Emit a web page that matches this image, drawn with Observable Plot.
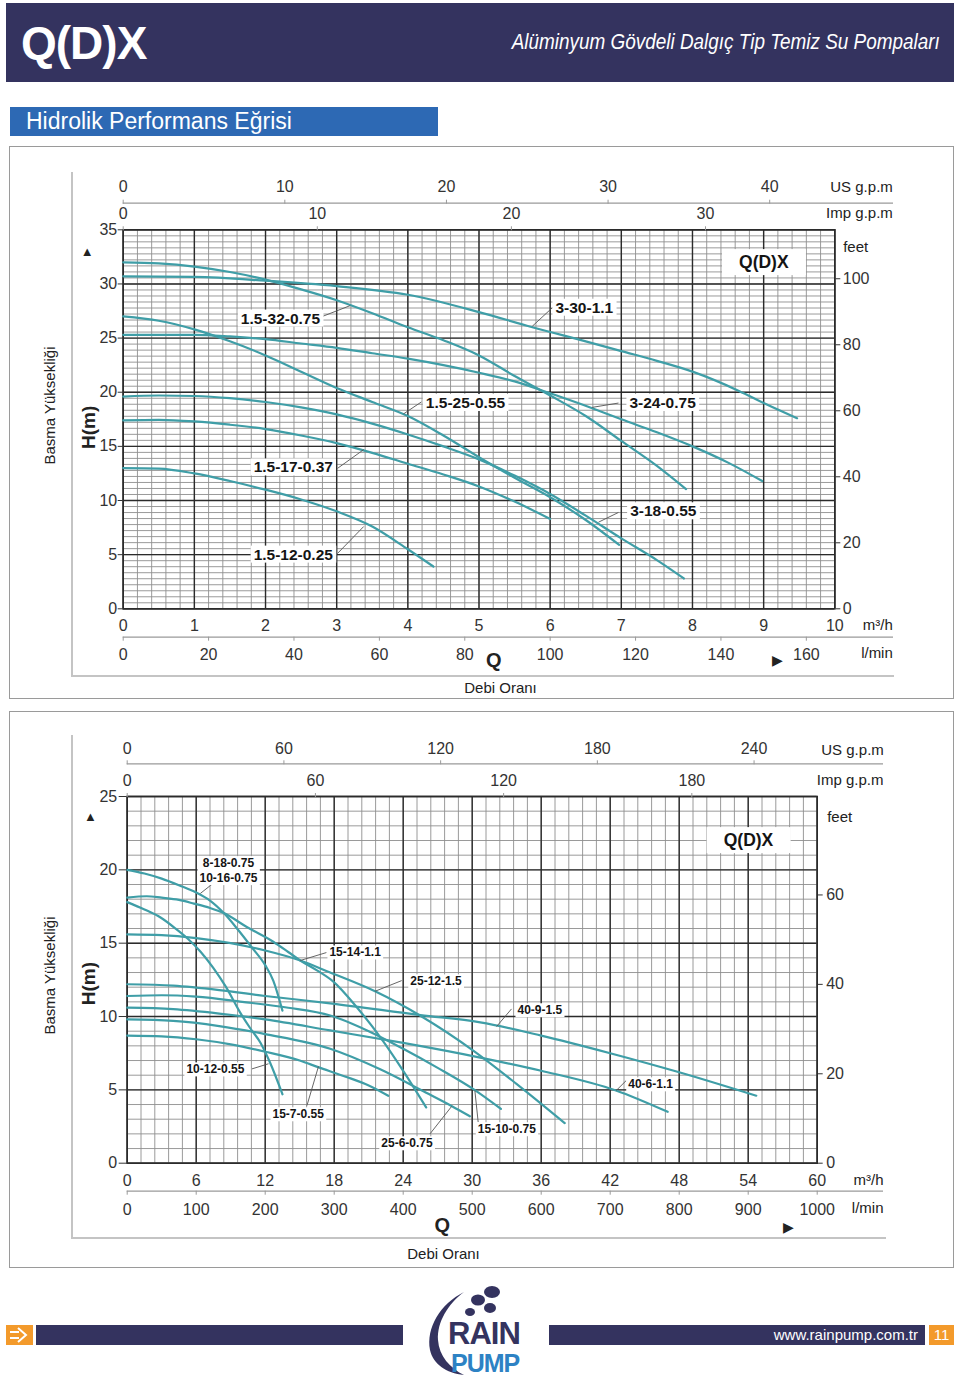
<!DOCTYPE html>
<html><head><meta charset="utf-8">
<script src="https://cdn.jsdelivr.net/npm/d3@7"></script>
<script src="https://cdn.jsdelivr.net/npm/@observablehq/plot@0.6"></script>
<style>
body{margin:0;background:#fff;font-family:"Liberation Sans",Arial,sans-serif;}
#page{position:relative;width:960px;height:1376px;overflow:hidden;background:#fff;}
.abs{position:absolute;white-space:nowrap;}
.chart{position:absolute;left:0;}
</style></head><body><div id="page">
<div class="abs" style="left:6px;top:3px;width:948px;height:79px;background:#34335f"></div>
<div class="abs" style="left:21px;top:20px;font:bold 46px 'Liberation Sans',Arial;line-height:1;color:#fff;letter-spacing:-1px">Q(D)X</div>
<div class="abs" style="right:20px;top:31px;font:italic 22px 'Liberation Sans',Arial;line-height:1;color:#fff;transform:scaleX(.86);transform-origin:right center">Alüminyum Gövdeli Dalgıç Tip Temiz Su Pompaları</div>
<div class="abs" style="left:10px;top:107px;width:428px;height:29px;background:#2d69b4"></div>
<div class="abs" style="left:26px;top:110px;font:23px 'Liberation Sans',Arial;line-height:1;color:#fff">Hidrolik Performans Eğrisi</div>
<div class="abs" style="left:9px;top:146px;width:943px;height:551px;border:1px solid #9a9a9a"></div>
<div class="abs" style="left:71px;top:172px;width:821px;height:503px;border-left:2px solid #c4c4c4;border-bottom:2px solid #c4c4c4"></div>
<div class="abs" style="left:9px;top:711px;width:943px;height:555px;border:1px solid #9a9a9a"></div>
<div class="abs" style="left:71px;top:735px;width:813px;height:502px;border-left:2px solid #c4c4c4;border-bottom:2px solid #c4c4c4"></div>
<div id="top" class="chart" style="top:147px"></div>
<div id="bot" class="chart" style="top:711px"></div>
<!-- footer -->
<svg class="abs" style="left:6px;top:1325px" width="27" height="20"><rect width="27" height="20" fill="#f39a2b"/><path d="M4 7h9M4 13h9M12 3l8 7-8 7" stroke="#fff" stroke-width="2" fill="none"/></svg>
<div class="abs" style="left:36px;top:1325px;width:367px;height:20px;background:#34335f"></div>
<div class="abs" style="left:549px;top:1325px;width:376px;height:20px;background:#34335f"></div>
<div class="abs" style="right:42px;top:1327px;font:15px 'Liberation Sans',Arial;line-height:16px;color:#fff">www.rainpump.com.tr</div>
<div class="abs" style="left:929px;top:1325px;width:25px;height:20px;background:#f39a2b;color:#fff;font:15px 'Liberation Sans',Arial;line-height:20px;text-align:center">11</div>
<svg class="abs" style="left:420px;top:1282px" width="130" height="94">
<path d="M44 10 C20 22 6 46 10 68 C13 82 26 91 44 93 C30 86 19 74 18 58 C17 40 28 22 44 10Z" fill="#34335f"/>
<ellipse cx="72" cy="10" rx="8" ry="6" fill="#34335f"/><ellipse cx="58" cy="18" rx="7" ry="5.5" fill="#34335f"/>
<ellipse cx="70" cy="26" rx="6" ry="5" fill="#34335f"/><ellipse cx="50" cy="30" rx="5" ry="4" fill="#34335f"/>
<text x="28" y="62" font-family="Liberation Sans,Arial" font-weight="bold" font-size="31" fill="#34335f" letter-spacing="-1">RAIN</text>
<text x="31" y="90" font-family="Liberation Sans,Arial" font-weight="bold" font-size="25" fill="#2d82c4" letter-spacing="-1">PUMP</text>
</svg>
</div>
<script>
// ---------- unit conversions ----------
const feetToM = 0.3048, usToM3h = 0.2271247, impToM3h = 0.2727654, lminToM3h = 0.06;

// ---------- top chart: tick values ----------
const topFlowTicks = [0,1,2,3,4,5,6,7,8,9,10];
const topHeadTicks = [0,5,10,15,20,25,30,35];
const topFeetTicks = [0,20,40,60,80,100];
const topUsTicks = [0,10,20,30,40];
const topImpTicks = [0,10,20,30];
const topLminTicks = [0,20,40,60,80,100,120,140,160];

// ---------- top chart: curves (Q m3/h, H m) ----------
const c_1_5_32_075 = [[0,32.0],[0.5,31.9],[1,31.6],[1.5,31.1],[2,30.4],[2.5,29.5],[3,28.5],[3.5,27.3],[4,26.0],[4.5,24.8],[5,23.4],[5.5,21.5],[6,19.7],[6.5,17.8],[7,15.5],[7.5,13.2],[7.91,11.05]];
const c_3_30_11 = [[0,30.7],[1,30.65],[2,30.3],[3,29.8],[4,29.0],[5,27.4],[5.75,26.0],[6.5,24.7],[7,23.8],[7.5,22.9],[8,21.9],[8.66,20.1],[9,19.0],[9.47,17.6]];
const c_1_5_25_055 = [[0,27.0],[0.5,26.6],[1,25.8],[1.5,24.7],[2,23.4],[2.5,21.9],[3,20.4],[3.5,19.1],[4,17.8],[4.5,16.0],[5,14.0],[5.5,12.1],[6,10.3],[6.5,8.2],[6.97,5.9]];
const c_3_24_075 = [[0,25.3],[1,25.3],[1.5,25.15],[2,24.9],[2.5,24.5],[3,24.1],[3.5,23.6],[4,23.1],[4.5,22.5],[5,21.8],[5.5,21.0],[6,19.9],[6.6,18.5],[7,17.5],[7.5,16.3],[8,15.0],[8.5,13.5],[8.98,11.8]];
const c_3_18_055 = [[0,19.6],[0.5,19.7],[1,19.65],[1.5,19.45],[2,19.1],[2.5,18.6],[3,17.95],[3.5,17.1],[4,16.1],[4.5,15.0],[5,13.8],[5.5,12.3],[6,10.6],[6.5,8.6],[7,6.5],[7.5,4.5],[7.88,2.8]];
const c_1_5_17_037 = [[0,17.4],[0.5,17.45],[1,17.3],[1.5,17.0],[2,16.6],[2.5,16.0],[3,15.3],[3.5,14.4],[4,13.4],[4.5,12.4],[5,11.3],[5.5,9.9],[6,8.3]];
const c_1_5_12_025 = [[0,13.0],[0.5,12.95],[1,12.5],[1.5,11.8],[2,11.0],[2.5,10.1],[3,9.0],[3.5,7.6],[4,5.5],[4.36,3.9]];
const topModels = ["1.5-32-0.75","3-30-1.1","1.5-25-0.55","3-24-0.75","3-18-0.55","1.5-17-0.37","1.5-12-0.25"];
const topSeries = [c_1_5_32_075,c_3_30_11,c_1_5_25_055,c_3_24_075,c_3_18_055,c_1_5_17_037,c_1_5_12_025];
// label annotations (data units): text centre, leader start, leader end on curve
const topLabelNames = ["1.5-32-0.75","3-30-1.1","1.5-25-0.55","3-24-0.75","1.5-17-0.37","3-18-0.55","1.5-12-0.25"];
const topLabelText = [[2.21,26.8],[6.48,27.8],[4.81,19.0],[7.58,19.0],[2.39,13.05],[7.59,9.0],[2.39,5.0]];
const topLeaderFrom = [[2.80,27.0],[6.03,27.8],[4.19,19.1],[6.96,19.0],[3.01,12.96],[6.96,8.9],[3.01,5.1]];
const topLeaderTo = [[3.19,28.0],[5.75,26.1],[3.94,18.0],[6.59,18.6],[3.38,14.7],[6.68,8.0],[3.38,7.6]];

// ---------- bottom chart: tick values ----------
const botFlowTicks = [0,6,12,18,24,30,36,42,48,54,60];
const botHeadTicks = [0,5,10,15,20,25];
const botFeetTicks = [0,20,40,60];
const botUsTicks = [0,60,120,180,240];
const botImpTicks = [0,60,120,180];
const botLminTicks = [0,100,200,300,400,500,600,700,800,900,1000];

// ---------- bottom chart: curves ----------
// one drawn curve is shared by 8-18-0.75 and 10-16-0.75 (single label in the original)
const b_8_18_10_16_075 = [[0,20.0],[1.5,19.75],[3,19.4],[4.5,18.95],[6,18.45],[7.2,17.9],[8.4,17.05],[9.6,15.95],[10.85,14.7],[12,13.5],[12.7,12.45],[13.5,10.4]];
const b_15_14_11 = [[0,18.1],[1.7,18.2],[3,18.1],[4.5,17.95],[5.8,17.7],[7.2,17.4],[8.4,17.05],[10.4,16.1],[12.7,15.1],[14,14.4],[15.05,13.82],[16.5,13.15],[17.9,12.4],[20,10.6],[22,8.6],[24,6.3],[26,3.8]];
const b_10_12_055 = [[0,17.8],[1.5,17.3],[2.9,16.75],[4.2,16.0],[5.2,15.35],[6.4,14.4],[7.5,13.3],[8.6,12.0],[9.8,10.3],[10.7,9.2],[11.6,8.2],[12.4,6.9],[13.5,4.7]];
const b_25_12_15 = [[0,15.6],[3,15.55],[6,15.35],[9,15.0],[12,14.5],[15.05,13.82],[17.65,13.0],[21.55,11.72],[25.46,10.07],[30.09,7.68],[33.85,5.41],[38.05,2.73]];
const b_40_9_15 = [[0,12.2],[4,12.1],[8,11.8],[12,11.4],[17.65,10.9],[25.5,10.1],[30.7,9.6],[36,8.7],[42,7.5],[48,6.2],[54.7,4.6]];
const b_15_10_075 = [[0,11.4],[3,11.45],[6,11.35],[10,11.0],[14,10.6],[17.65,10.07],[21,9.0],[24,7.8],[27,6.5],[30.2,5.0],[32.5,3.7]];
const b_40_6_11 = [[0,10.6],[4,10.5],[8,10.2],[12,9.8],[17.65,9.05],[24,8.2],[30.7,7.2],[36,6.3],[42.5,4.96],[47,3.5]];
const b_25_6_075 = [[0,9.8],[4,9.7],[8,9.35],[12,8.8],[17.65,7.8],[22,6.4],[26,4.8],[28.2,3.9],[29.8,3.2]];
const b_15_7_055 = [[0,8.7],[3,8.65],[6,8.45],[9,8.1],[12,7.6],[15,7.0],[16.6,6.55],[19,5.9],[21,5.3],[22.7,4.6]];
const botModels = ["8-18-0.75 / 10-16-0.75","15-14-1.1","10-12-0.55","25-12-1.5","40-9-1.5","15-10-0.75","40-6-1.1","25-6-0.75","15-7-0.55"];
const botSeries = [b_8_18_10_16_075,b_15_14_11,b_10_12_055,b_25_12_15,b_40_9_15,b_15_10_075,b_40_6_11,b_25_6_075,b_15_7_055];
const botLabelNames = ["8-18-0.75\n10-16-0.75","15-14-1.1","25-12-1.5","40-9-1.5","10-12-0.55","15-7-0.55","25-6-0.75","15-10-0.75","40-6-1.1"];
const botLabelText = [[8.81,20.0],[19.82,14.42],[26.85,12.45],[35.88,10.48],[7.67,6.45],[14.87,3.39],[24.33,1.41],[33.01,2.37],[45.51,5.43]];
const botLabelAnchor = ["start","middle","middle","middle","middle","middle","middle","middle","middle"];
const botLeaderFrom = [[8.64,19.8],[17.32,14.36],[23.87,12.45],[33.42,10.52],[10.85,6.43],[15.63,3.93],[26.33,2.0],[30.52,2.8],[43.4,5.64]];
const botLeaderTo = [[6.36,18.39],[15.05,13.82],[21.55,11.72],[32.12,9.32],[12.29,6.78],[16.63,6.59],[28.21,3.87],[30.23,4.96],[42.53,4.96]];

// ---------- helpers ----------
const curveColor = "#3f9ea7";
const labelInk = "#151515", boxInk = "#141414";
const toRows = (models, series) => models.flatMap((m,i) => series[i].map(([q,h]) => ({model:m, q, h})));
const toLabels = (names, text, from, to, anchors) => names.map((n,i) => ({name:n, tx:text[i][0], ty:text[i][1], fx:from[i][0], fy:from[i][1], cx:to[i][0], cy:to[i][1], anchor: anchors ? anchors[i] : "middle"}));
const fmt = k => d => String(Math.round(d / k));

function grid(xMinor, xMajor, yMinor, yMajor) {
  return [
    Plot.ruleX(xMinor, {stroke:"#8e8e8e", strokeWidth:0.9}),
    Plot.ruleY(yMinor, {stroke:"#8e8e8e", strokeWidth:0.9}),
    Plot.ruleX(xMajor, {stroke:"#2b2b2b", strokeWidth:1.4}),
    Plot.ruleY(yMajor, {stroke:"#2b2b2b", strokeWidth:1.4}),
    Plot.frame({stroke:"#2b2b2b", strokeWidth:1.6})
  ];
}
// white background boxes behind annotation texts
function boxes(svg, ink, px, py) {
  svg.querySelectorAll(`g[fill="${ink}"] text`).forEach(t => {
    const b = t.getBBox();
    const r = document.createElementNS("http://www.w3.org/2000/svg", "rect");
    r.setAttribute("x", b.x - px); r.setAttribute("y", b.y - py);
    r.setAttribute("width", b.width + 2*px); r.setAttribute("height", b.height + 2*py);
    r.setAttribute("fill", "#fff");
    if (t.getAttribute("transform")) r.setAttribute("transform", t.getAttribute("transform"));
    t.parentNode.insertBefore(r, t);
  });
}
const font = "Liberation Sans, Arial, sans-serif";
const txt = (s, o) => Plot.text([s], {text: d => d, fill:"#222", textAnchor:"middle", lineAnchor:"middle", ...o});

// ---------- top chart ----------
const topRows = toRows(topModels, topSeries);
const topLabels = toLabels(topLabelNames, topLabelText, topLeaderFrom, topLeaderTo);
const topPlot = Plot.plot({
  width: 960, height: 551,
  marginLeft: 122.7, marginRight: 125.7, marginTop: 82.3, marginBottom: 89.7,
  x: {domain: [0, 10]}, y: {domain: [0, 35]},
  style: {fontFamily: font, color: "#333", background: "transparent", overflow: "visible"},
  marks: [
    ...grid(d3.range(0, 51).map(i => i / 5), topFlowTicks, d3.range(0, 64).map(i => i * 5 / 9), topHeadTicks),
    Plot.line(topRows, {x: "q", y: "h", z: "model", stroke: curveColor, strokeWidth: 2.2, curve: "monotone-x"}),
    Plot.link(topLabels, {x1: "fx", y1: "fy", x2: "cx", y2: "cy", stroke: "#555", strokeWidth: 0.9}),
    Plot.text(topLabels, {x: "tx", y: "ty", text: "name", fontWeight: "bold", fontSize: 15.5, fill: labelInk}),
    txt("Q(D)X", {frameAnchor: "top-right", dx: -71, dy: 32.7, fontWeight: "bold", fontSize: 17.5, fill: boxInk}),
    Plot.axisY({anchor: "left", ticks: topHeadTicks, tickSize: 5, tickPadding: 1, fontSize: 16, label: null}),
    Plot.axisY({anchor: "right", ticks: topFeetTicks.map(f => f * feetToM), tickFormat: fmt(feetToM), tickSize: 5, tickPadding: 3, fontSize: 16, label: null}),
    Plot.axisX({anchor: "bottom", ticks: topFlowTicks, tickSize: 0, tickPadding: 11, fontSize: 16, label: null}),
    Plot.ruleY([0], {dy: 28.4, insetRight: -58.7, stroke: "#9a9a9a", strokeWidth: 1.2}),
    Plot.axisX({anchor: "bottom", ticks: topLminTicks.map(v => v * lminToM3h), tickFormat: fmt(lminToM3h), tickSize: 4, tickPadding: 7, dy: 28.4, stroke: "#9a9a9a", fontSize: 16, label: null}),
    Plot.axisX({anchor: "top", ticks: topImpTicks.map(v => v * impToM3h), tickFormat: fmt(impToM3h), tickSize: 4, tickPadding: 7, stroke: "#9a9a9a", fontSize: 16, label: null}),
    Plot.ruleY([35], {dy: -26.6, insetRight: -58.7, stroke: "#9a9a9a", strokeWidth: 1.2}),
    Plot.axisX({anchor: "top", ticks: topUsTicks.map(v => v * usToM3h), tickFormat: fmt(usToM3h), tickSize: 4, tickPadding: 7, dy: -26.6, stroke: "#9a9a9a", fontSize: 16, label: null}),
    txt("US g.p.m", {frameAnchor: "top-right", textAnchor: "end", dx: 58, dy: -42.6, fontSize: 15}),
    txt("Imp g.p.m", {frameAnchor: "top-right", textAnchor: "end", dx: 58, dy: -16.3, fontSize: 15}),
    txt("feet", {frameAnchor: "top-right", textAnchor: "start", dx: 8.4, dy: 17.7, fontSize: 15}),
    txt("m³/h", {frameAnchor: "bottom-right", textAnchor: "end", dx: 58, dy: 16.7, fontSize: 15}),
    txt("l/min", {frameAnchor: "bottom-right", textAnchor: "end", dx: 58, dy: 44.7, fontSize: 15}),
    txt("▲", {frameAnchor: "top-left", dx: -36, dy: 22.4, fontSize: 13}),
    txt("H(m)", {frameAnchor: "left", rotate: -90, dx: -34.7, dy: 8, fontSize: 19, fontWeight: "bold"}),
    txt("Basma Yüksekliği", {frameAnchor: "left", rotate: -90, dx: -72.7, dy: -13.8, fontSize: 15}),
    txt("Q", {frameAnchor: "bottom", dx: 14.8, dy: 51.7, fontSize: 20, fontWeight: "bold"}),
    txt("▶", {frameAnchor: "bottom-right", dx: -57.6, dy: 51.7, fontSize: 14}),
    txt("Debi Oranı", {frameAnchor: "bottom", dx: 21.5, dy: 79.7, fontSize: 15})
  ]
});
document.getElementById("top").appendChild(topPlot);
boxes(topPlot, labelInk, 3, 0);
boxes(topPlot, boxInk, 17, 3);

// ---------- bottom chart ----------
const botRows = toRows(botModels, botSeries);
const botLabels = toLabels(botLabelNames, botLabelText, botLeaderFrom, botLeaderTo, botLabelAnchor);
const botPlot = Plot.plot({
  width: 960, height: 556,
  marginLeft: 126.7, marginRight: 143.3, marginTop: 85, marginBottom: 104.3,
  x: {domain: [0, 60]}, y: {domain: [0, 25]},
  style: {fontFamily: font, color: "#333", background: "transparent", overflow: "visible"},
  marks: [
    ...grid(d3.range(0, 51).map(i => i * 1.2), botFlowTicks, d3.range(0, 26), botHeadTicks),
    Plot.line(botRows, {x: "q", y: "h", z: "model", stroke: curveColor, strokeWidth: 2.2, curve: "monotone-x"}),
    Plot.link(botLabels, {x1: "fx", y1: "fy", x2: "cx", y2: "cy", stroke: "#555", strokeWidth: 0.9}),
    Plot.text(botLabels, {x: "tx", y: "ty", text: "name", textAnchor: d => d.anchor, fontWeight: "bold", fontSize: 12, lineHeight: 1.25, fill: labelInk}),
    txt("Q(D)X", {frameAnchor: "top-right", dx: -68.7, dy: 44, fontWeight: "bold", fontSize: 17.5, fill: boxInk}),
    Plot.axisY({anchor: "left", ticks: botHeadTicks, tickSize: 8, tickPadding: 2, fontSize: 16, label: null}),
    Plot.axisY({anchor: "right", ticks: botFeetTicks.map(f => f * feetToM), tickFormat: fmt(feetToM), tickSize: 5, tickPadding: 4, fontSize: 16, label: null}),
    Plot.axisX({anchor: "bottom", ticks: botFlowTicks, tickSize: 0, tickPadding: 11.6, fontSize: 16, label: null}),
    Plot.ruleY([0], {dy: 28, insetRight: -66.3, stroke: "#9a9a9a", strokeWidth: 1.2}),
    Plot.axisX({anchor: "bottom", ticks: botLminTicks.map(v => v * lminToM3h), tickFormat: fmt(lminToM3h), tickSize: 4, tickPadding: 8, dy: 28, stroke: "#9a9a9a", fontSize: 16, label: null}),
    Plot.axisX({anchor: "top", ticks: botImpTicks.map(v => v * impToM3h), tickFormat: fmt(impToM3h), tickSize: 4, tickPadding: 7, stroke: "#9a9a9a", fontSize: 16, label: null}),
    Plot.ruleY([25], {dy: -32.7, insetRight: -66.3, stroke: "#9a9a9a", strokeWidth: 1.2}),
    Plot.axisX({anchor: "top", ticks: botUsTicks.map(v => v * usToM3h), tickFormat: fmt(usToM3h), tickSize: 4, tickPadding: 5.5, dy: -32.7, stroke: "#9a9a9a", fontSize: 16, label: null}),
    txt("US g.p.m", {frameAnchor: "top-right", textAnchor: "end", dx: 66.6, dy: -46.7, fontSize: 15}),
    txt("Imp g.p.m", {frameAnchor: "top-right", textAnchor: "end", dx: 66.3, dy: -16, fontSize: 15}),
    txt("feet", {frameAnchor: "top-right", textAnchor: "start", dx: 10, dy: 20.7, fontSize: 15}),
    txt("m³/h", {frameAnchor: "bottom-right", textAnchor: "end", dx: 66.3, dy: 17.3, fontSize: 15}),
    txt("l/min", {frameAnchor: "bottom-right", textAnchor: "end", dx: 66.3, dy: 45.3, fontSize: 15}),
    txt("▲", {frameAnchor: "top-left", dx: -36.7, dy: 20.7, fontSize: 13}),
    txt("H(m)", {frameAnchor: "left", rotate: -90, dx: -38.7, dy: 3.7, fontSize: 19, fontWeight: "bold"}),
    txt("Basma Yüksekliği", {frameAnchor: "left", rotate: -90, dx: -76.7, dy: -4.3, fontSize: 15}),
    txt("Q", {frameAnchor: "bottom", dx: -30, dy: 62.3, fontSize: 20, fontWeight: "bold"}),
    txt("▶", {frameAnchor: "bottom-right", dx: -28.7, dy: 64, fontSize: 14}),
    txt("Debi Oranı", {frameAnchor: "bottom", dx: -28.7, dy: 91.3, fontSize: 15})
  ]
});
document.getElementById("bot").appendChild(botPlot);
boxes(botPlot, labelInk, 2, 0);
boxes(botPlot, boxInk, 17, 3);
</script>
</body></html>
